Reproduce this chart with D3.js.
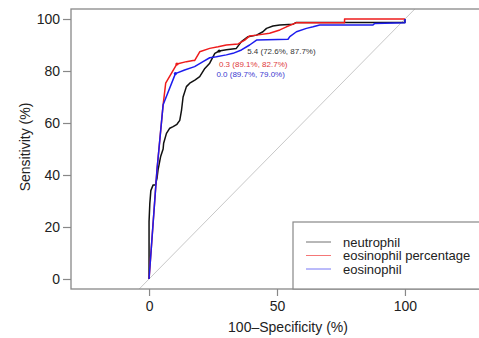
<!DOCTYPE html>
<html>
<head>
<meta charset="utf-8">
<script src="https://cdn.jsdelivr.net/npm/d3@7"></script>
<style>
  body { margin: 0; background: #fff; }
  svg { display: block; font-family: "Liberation Sans", Arial, sans-serif; }
</style>
</head>
<body>
<svg width="479" height="338"></svg>
<script>
// ROC curves: x = 100 - specificity (%), y = sensitivity (%)
const neutrophil = [
  [0, 0], [0, 22], [0.3, 29], [0.7, 34], [1.6, 36.2], [2.5, 36.2], [3.1, 38.7],
  [3.5, 41.9], [4.5, 47], [5.5, 50], [5.7, 52.2], [6.8, 56], [8.1, 58],
  [9.4, 58.6], [10.9, 59.5], [12, 61], [12.7, 65], [13.3, 70], [14.6, 74],
  [15.9, 75.3], [17.9, 76.5], [19.8, 77.8], [21.8, 81], [23.7, 83], [25.7, 86.8],
  [27.4, 87.7], [30.2, 88.2], [34.1, 88.7], [36.1, 91.3], [38.7, 93.2], [42, 93.8],
  [44.5, 95.1], [45.9, 96.4], [48.4, 97.3], [51.1, 97.7], [56.3, 98], [57.6, 98.7],
  [100, 98.7], [100, 100]
];
const eosPct = [
  [0, 0], [3.1, 42], [5.5, 67], [6.5, 75.3], [10.9, 82.7], [14.6, 83.6],
  [17.2, 84], [17.8, 84], [19.8, 87.4], [23.7, 88.7], [27, 89.3], [30.2, 90],
  [34.8, 90.4], [37.4, 91.9], [39.3, 93.5], [42, 93.8], [47.1, 94.5], [51.1, 95.8],
  [53.7, 97], [57.6, 98.6], [76.4, 98.6], [76.4, 100], [100, 100]
];
const eos = [
  [0, 0], [3.1, 42], [5.5, 67], [10.3, 79], [13.9, 80.4], [17.8, 81.7],
  [21.1, 83.6], [23.7, 85.1], [26.3, 85.5], [30.2, 86.2], [32.8, 86.8],
  [36.1, 88.1], [39.3, 90], [42, 91.9], [54.3, 92.2], [55, 93.2], [57.6, 95.1],
  [61.5, 96.4], [64.1, 97], [66.7, 97.7], [87.5, 97.7], [88.2, 98.3],
  [100, 98.6], [100, 100]
];

const seriesNames = ["neutrophil", "eosinophil percentage", "eosinophil"];
const seriesColors = ["#111111", "#ee1c1c", "#1c1cee"];
const series = [neutrophil, eosPct, eos];

// best thresholds: [x, y, label]
const thresholds = [
  [27.4, 87.7, "5.4 (72.6%, 87.7%)"],
  [10.9, 82.7, "0.3 (89.1%, 82.7%)"],
  [10.3, 79.0, "0.0 (89.7%, 79.0%)"]
];
const thrTextColors = ["#333333", "#e03a3a", "#3a3ad0"];
const thrDx = [28, 42, 41];

const xTicks = [0, 50, 100];
const yTicks = [0, 20, 40, 60, 80, 100];

const svg = d3.select("svg");
const x = d3.scaleLinear([-30.5, 130.5], [71, 483]);
const y = d3.scaleLinear([-3.85, 103.85], [289, 9]);

svg.append("clipPath").attr("id", "clip")
  .append("rect").attr("x", 71).attr("y", 9).attr("width", 412).attr("height", 280);

const plot = svg.append("g").attr("clip-path", "url(#clip)");

// reference diagonal
plot.append("line")
  .attr("x1", x(-10)).attr("y1", y(-10))
  .attr("x2", x(110)).attr("y2", y(110))
  .attr("stroke", "#c8c8c8").attr("stroke-width", 1);

const line = d3.line().x(d => x(d[0])).y(d => y(d[1]));

series.forEach((s, i) => {
  plot.append("path")
    .datum(s)
    .attr("d", line)
    .attr("fill", "none")
    .attr("stroke", seriesColors[i])
    .attr("stroke-width", 1.5)
    .attr("stroke-linejoin", "round");
});

thresholds.forEach((t, i) => {
  plot.append("circle")
    .attr("cx", x(t[0])).attr("cy", y(t[1])).attr("r", 1.6)
    .attr("fill", seriesColors[i]);
  plot.append("text")
    .attr("x", x(t[0]) + thrDx[i]).attr("y", y(t[1]) + 3)
    .attr("font-size", 8)
    .attr("fill", thrTextColors[i])
    .text(t[2]);
});

// box
svg.append("rect")
  .attr("x", 71).attr("y", 9).attr("width", 412).attr("height", 280)
  .attr("fill", "none").attr("stroke", "#888").attr("stroke-width", 1.3);

// axes
const yAxis = svg.append("g")
  .attr("transform", "translate(71,0)")
  .call(d3.axisLeft(y).tickValues(yTicks).tickSize(8).tickPadding(3));
const xAxis = svg.append("g")
  .attr("transform", "translate(0,289)")
  .call(d3.axisBottom(x).tickValues(xTicks).tickSize(7).tickPadding(5));

[xAxis, yAxis].forEach(a => {
  a.select(".domain").remove();
  a.selectAll(".tick line").attr("stroke", "#888").attr("stroke-width", 1.2);
  a.selectAll(".tick text").attr("font-size", 14).attr("fill", "#222")
    .attr("font-family", "Liberation Sans, Arial, sans-serif");
});

svg.append("text")
  .attr("x", 288).attr("y", 332)
  .attr("text-anchor", "middle").attr("font-size", 14).attr("fill", "#222")
  .text("100\u2013Specificity (%)");

svg.append("text")
  .attr("transform", "translate(30,147) rotate(-90)")
  .attr("text-anchor", "middle").attr("font-size", 14).attr("fill", "#222")
  .text("Sensitivity (%)");

// legend
const legend = svg.append("g");
legend.append("rect")
  .attr("x", 293).attr("y", 222).attr("width", 200).attr("height", 67)
  .attr("fill", "#fff").attr("stroke", "#888").attr("stroke-width", 1.2);

seriesNames.forEach((name, i) => {
  const ly = 242 + i * 13.5;
  legend.append("line")
    .attr("x1", 306).attr("x2", 331).attr("y1", ly).attr("y2", ly)
    .attr("stroke", seriesColors[i]).attr("stroke-width", 1).attr("stroke-opacity", 0.6);
  legend.append("text")
    .attr("x", 343).attr("y", ly + 4.5)
    .attr("font-size", 13).attr("fill", "#222")
    .text(name);
});
</script>
</body>
</html>
